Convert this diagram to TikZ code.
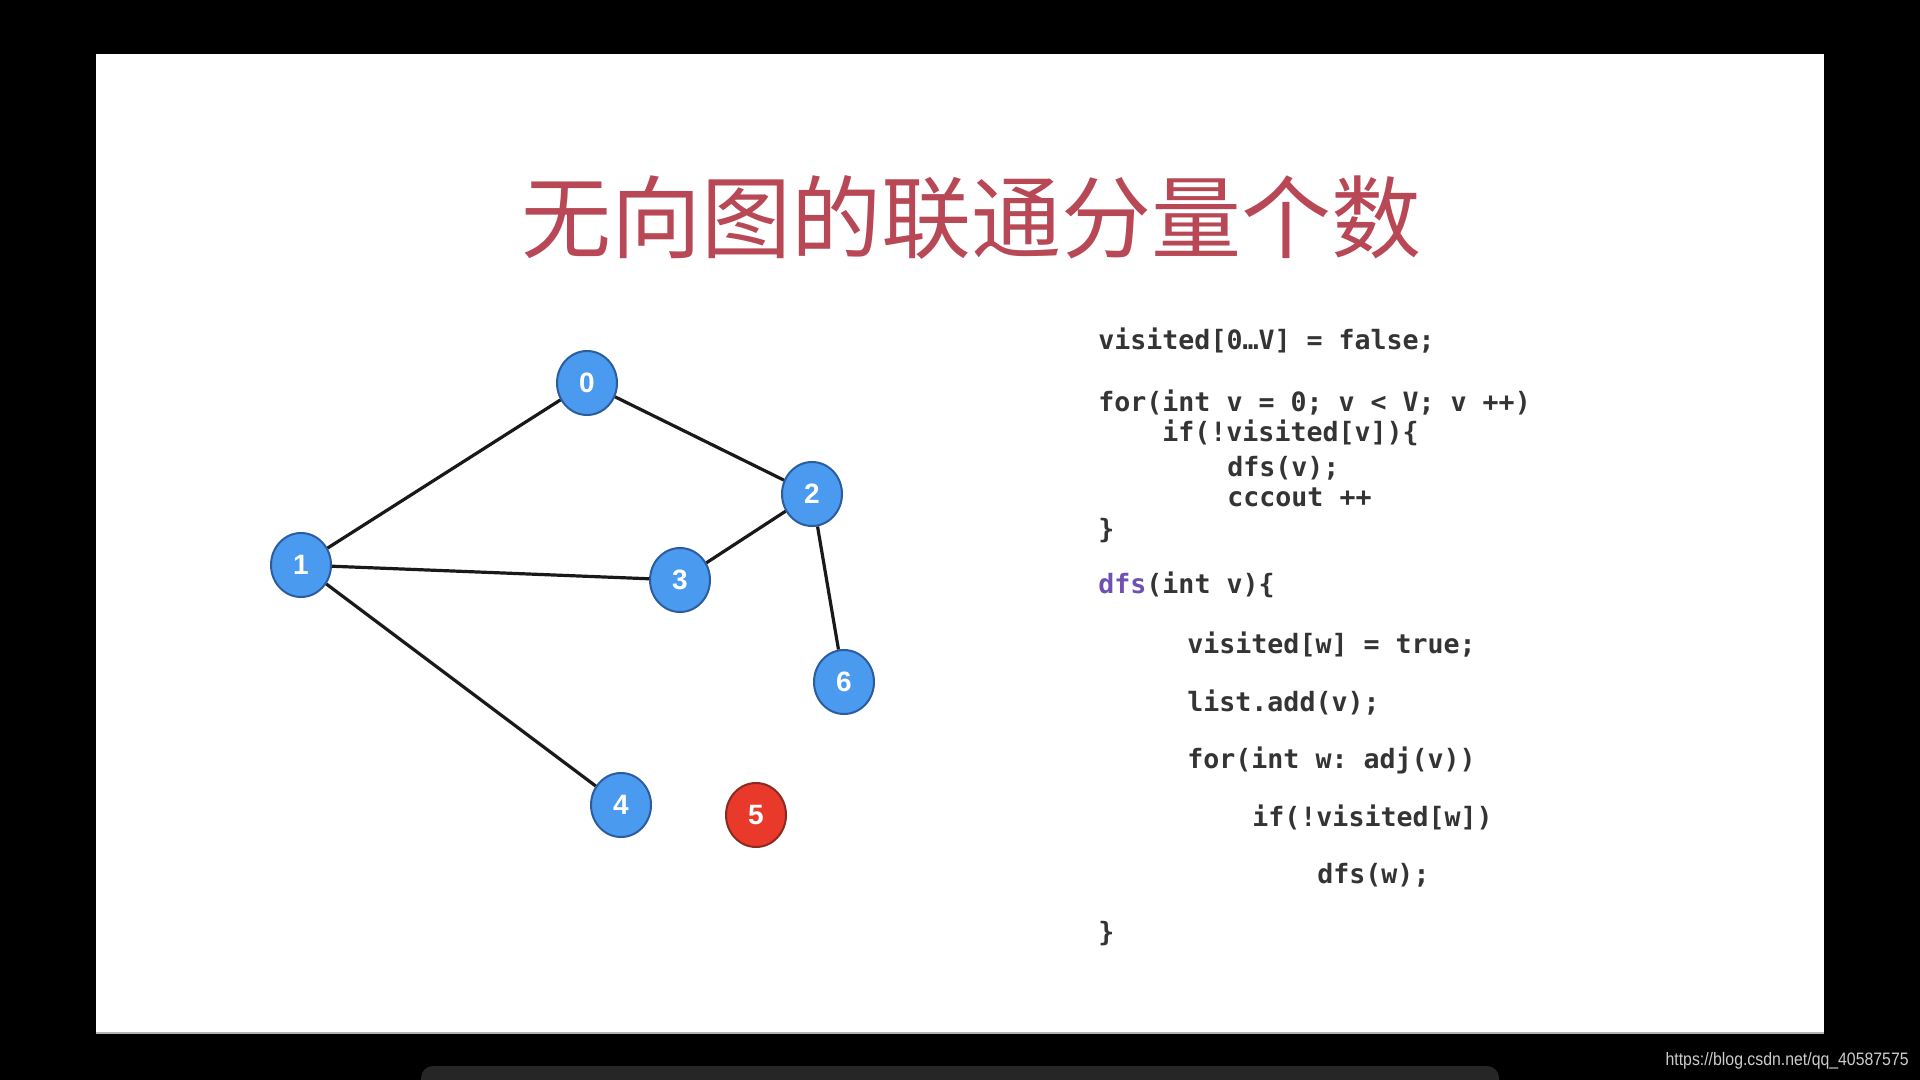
\documentclass[tikz,border=0pt]{standalone}
\usepackage{fontspec}
\setmainfont{Liberation Sans}
\setmonofont{DejaVu Sans Mono}
\newfontfamily\cjk{Noto Sans CJK SC}
\usetikzlibrary{shapes.geometric}
\definecolor{slidebg}{RGB}{255,255,255}
\definecolor{titlered}{RGB}{184,72,86}
\definecolor{nodeblue}{RGB}{74,154,240}
\definecolor{edgeblue}{RGB}{42,92,158}
\definecolor{nodered}{RGB}{232,57,42}
\definecolor{edgered}{RGB}{138,42,32}
\definecolor{codegray}{RGB}{52,52,52}
\definecolor{codepurple}{RGB}{112,80,176}
\frenchspacing
\begin{document}
\begin{tikzpicture}[x=0.5pt,y=-0.5pt,
  vertex/.style={ellipse,draw=edgeblue,line width=1pt,fill=nodeblue,
    minimum width=30pt,minimum height=32pt,inner sep=0pt,
    text=white,font=\fontsize{14}{14}\selectfont\bfseries},
  lonely/.style={vertex,draw=edgered,fill=nodered},
  edge/.style={line width=1.6pt,black!90},
  code/.style={anchor=base west,inner sep=0pt,text=codegray,
    font=\fontsize{13.3}{13.3}\selectfont\ttfamily\bfseries}]
\useasboundingbox[fill=black] (0,0) rectangle (1920,1080);
\fill[slidebg] (96,54) rectangle (1824,1033);
\draw[gray!60,line width=1pt] (96,1033) -- (1824,1033);
\fill[black!85,rounded corners=6pt] (421,1066) rectangle (1499,1100);
% title
\node (title) at (971,217) [text=titlered,font=\cjk\fontsize{45}{45}\selectfont] {无向图的联通分量个数};
% graph
\node (n0) at (587,383) [vertex] {0};
\node (n1) at (301,565) [vertex] {1};
\node (n2) at (812,494) [vertex] {2};
\node (n3) at (680,580) [vertex] {3};
\node (n4) at (621,805) [vertex] {4};
\node (n5) at (756,815) [lonely] {5};
\node (n6) at (844,682) [vertex] {6};
\draw[edge] (n0) -- (n1);
\draw[edge] (n0) -- (n2);
\draw[edge] (n1) -- (n3);
\draw[edge] (n2) -- (n3);
\draw[edge] (n2) -- (n6);
\draw[edge] (n1) -- (n4);
% code
\node (c1) at (1098,350) [code] {visited[0…V] = false;};
\node (c2) at (1098,411) [code] {for(int v = 0; v < V; v ++)};
\node (c3) at (1162,441) [code] {if(!visited[v])\{};
\node (c4) at (1227,476) [code] {dfs(v);};
\node (c5) at (1227,506) [code] {cccout ++};
\node (c6) at (1098,538) [code] {\}};
\node (c7) at (1098,593) [code] {\textcolor{codepurple}{dfs}(int v)\{};
\node (c8) at (1187,653) [code] {visited[w] = true;};
\node (c9) at (1187,711) [code] {list.add(v);};
\node (c10) at (1187,768) [code] {for(int w: adj(v))};
\node (c11) at (1252,826) [code] {if(!visited[w])};
\node (c12) at (1317,883) [code] {dfs(w);};
\node (c13) at (1098,941) [code] {\}};
% watermark
\node (mark) at (1909,1061) [anchor=east,inner sep=0pt,text=black!20,xscale=0.88,transform shape,font=\fontsize{9}{9}\selectfont] {https://blog.csdn.net/qq\_40587575};
\end{tikzpicture}
\end{document}
